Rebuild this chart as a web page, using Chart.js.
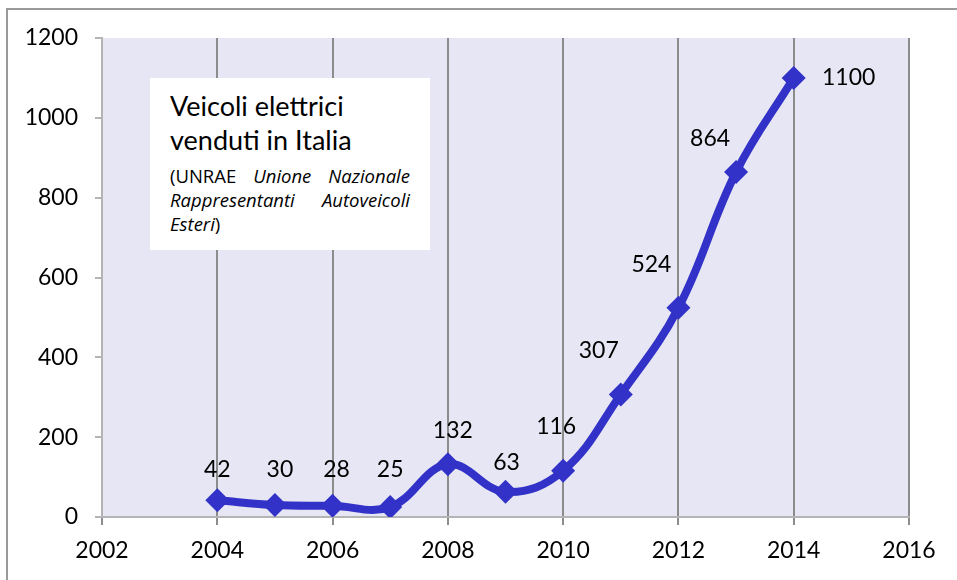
<!DOCTYPE html>
<html>
<head>
<meta charset="utf-8">
<script src="https://cdn.jsdelivr.net/npm/chart.js@4/dist/chart.umd.min.js"></script>
<style>
  html, body { margin: 0; padding: 0; background: #ffffff; overflow: hidden; }
  #wrap { position: relative; width: 957px; height: 580px; overflow: hidden; }
  #frame { position: absolute; left: 6px; top: 8px; width: 1000px; height: 600px;
           border-top: 2px solid #9a9a9a; border-left: 2px solid #9a9a9a; box-sizing: border-box; }
  canvas { position: absolute; left: 0; top: 0; }
  #note { position: absolute; left: 150px; top: 78px; width: 280px; height: 172px;
          background: #ffffff; box-sizing: border-box; padding: 11px 20px 0 20px;
          font-family: Lato, "Open Sans", sans-serif; color: #000; }
  #note .t { font-size: 27px; line-height: 34px; white-space: nowrap; }
  #note .s { font-family: "Open Sans", Lato, sans-serif; font-size: 18.5px; line-height: 24px; white-space: nowrap; }
  #note .s.j { text-align: justify; text-align-last: justify; }
  #note .first { margin-top: 7px; }
</style>
</head>
<body>
<div id="wrap">
  <div id="frame"></div>
  <canvas id="c" width="957" height="580"></canvas>
  <div id="note">
    <div class="t">Veicoli elettrici</div>
    <div class="t">venduti in Italia</div>
    <div class="s j first">(UNRAE <i>Unione Nazionale</i></div>
    <div class="s j"><i>Rappresentanti Autoveicoli</i></div>
    <div class="s"><i>Esteri</i>)</div>
  </div>
</div>
<script>
// Electric vehicles sold in Italy, per year
const years = [2004, 2005, 2006, 2007, 2008, 2009, 2010, 2011, 2012, 2013, 2014];
const sales = [42, 30, 28, 25, 132, 63, 116, 307, 524, 864, 1100];
const xTicks = [2002, 2004, 2006, 2008, 2010, 2012, 2014, 2016];
const yTicks = [0, 200, 400, 600, 800, 1000, 1200];

const FONT = 'Lato, "Open Sans", sans-serif';

// lavender plot background
const plotBg = {
  id: 'plotBg',
  beforeDraw(chart) {
    const { ctx, chartArea: a } = chart;
    ctx.save();
    ctx.fillStyle = '#e6e6f4';
    ctx.fillRect(a.left, a.top, a.right - a.left, a.bottom - a.top);
    ctx.restore();
  }
};

// value labels next to each marker
const valueLabels = {
  id: 'valueLabels',
  afterDatasetsDraw(chart, args, opts) {
    const { ctx } = chart;
    const meta = chart.getDatasetMeta(0);
    ctx.save();
    ctx.font = opts.font;
    ctx.fillStyle = '#000';
    ctx.textAlign = 'center';
    ctx.textBaseline = 'middle';
    meta.data.forEach((pt, i) => {
      const o = opts.offsets[i] || [0, -30];
      ctx.fillText(String(sales[i]), pt.x + o[0], pt.y + o[1]);
    });
    ctx.restore();
  }
};

new Chart(document.getElementById('c'), {
  type: 'line',
  data: {
    datasets: [{
      data: years.map((y, i) => ({ x: y, y: sales[i] })),
      borderColor: '#3232c8',
      backgroundColor: '#3232c8',
      borderWidth: 8,
      tension: 0.4,
      pointStyle: 'rectRot',
      pointRadius: 12,
      pointBorderWidth: 0,
      pointHoverRadius: 12,
      fill: false
    }]
  },
  options: {
    responsive: false,
    animation: false,
    events: [],
    layout: { padding: { left: 0, top: 38, right: 48, bottom: 0 } },
    plugins: {
      legend: { display: false },
      tooltip: { enabled: false },
      valueLabels: {
        font: '23px ' + FONT,
        offsets: [[0, -31], [5, -35], [4, -36], [0, -37], [5, -34], [1, -29],
                  [-7, -44], [-22, -44], [-27, -43], [-26, -34], [55, 0]]
      }
    },
    scales: {
      x: {
        type: 'linear',
        min: 2002, max: 2016,
        afterBuildTicks(s) { s.ticks = xTicks.map(v => ({ value: v })); },
        afterFit(s) { s.height = 63; },
        grid: { color: '#8c8c8c', lineWidth: 2, tickLength: 8, drawTicks: true },
        border: { color: '#b4b4b4', width: 2 },
        ticks: { color: '#000', font: { family: FONT, size: 23 }, padding: 12,
                 callback: v => String(v) }
      },
      y: {
        min: 0, max: 1200,
        afterBuildTicks(s) { s.ticks = yTicks.map(v => ({ value: v })); },
        afterFit(s) { s.width = 102; },
        grid: { drawOnChartArea: false, color: '#b4b4b4', lineWidth: 2, tickLength: 7 },
        border: { color: '#b4b4b4', width: 2 },
        ticks: { color: '#000', font: { family: FONT, size: 23 }, padding: 17,
                 callback: v => String(v) }
      }
    }
  },
  plugins: [plotBg, valueLabels]
});
</script>
</body>
</html>
